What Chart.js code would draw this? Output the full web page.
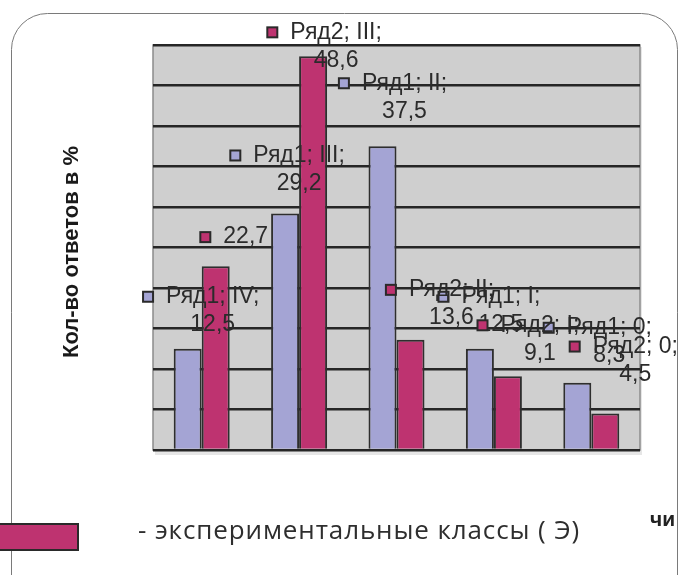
<!DOCTYPE html>
<html>
<head>
<meta charset="utf-8">
<script src="https://cdn.jsdelivr.net/npm/chart.js@4.4.1/dist/chart.umd.min.js"></script>
<style>
	body { margin: 0; background: #fff; }
	#wrap { width: 680px; height: 575px; position: relative; }
</style>
</head>
<body>
<div id="wrap"><canvas id="chart" width="680" height="575"></canvas></div>
<script>
// Categories (answer levels) and series
const categories = [ 'IV', 'III', 'II', 'I', '0' ];
const seriesNames = [ 'Ряд1', 'Ряд2' ];
const row1Values = [ 12.5, 29.2, 37.5, 12.5, 8.3 ];
const row2Values = [ 22.7, 48.6, 13.6, 9.1, 4.5 ];
const yTicks = [ 0, 50, 5 ]; // min, max, step

const yTitle = 'Кол-во ответов в %';
const legendText = '- экспериментальные классы ( Э)';

// Label placement relative to the top of each bar (text centre dx, first line dy)
const labelOffsets = [
	[ [ 25, -52 ], [ 14, -58 ], [ 22, -63 ], [ 21, -52 ], [ 32, -55 ] ],
	[ [ 30, -29 ], [ 23, -24 ], [ 41, -50 ], [ 32, -51 ], [ 30, -67 ] ],
];
// Ряд2; IV shows only its value
const labelNameShown = [
	[ true, true, true, true, true ],
	[ false, true, true, true, true ],
];

const colors = [ '#a4a4d4', '#be3370' ];
const labelFont = '23px "Liberation Sans", Arial, sans-serif';

function fmt( v ) {
	return String( v ).replace( '.', ',' );
}

// Frame, plot background, axis title and legend text
const decorPlugin = {
	id: 'decor',
	beforeDraw( chart ) {
		const { ctx, chartArea: a } = chart;
		ctx.save();
		// rounded frame
		ctx.strokeStyle = '#7a7a7a';
		ctx.lineWidth = 1;
		ctx.beginPath();
		ctx.roundRect( 11.5, 13.5, 666, 600, 36 );
		ctx.stroke();
		// gray plot area
		ctx.fillStyle = '#e6e6e6';
		ctx.fillRect( a.left + 2, a.top + 2, a.right - a.left, a.bottom - a.top + 3 );
		ctx.fillStyle = '#cfcfcf';
		ctx.fillRect( a.left, a.top, a.right - a.left, a.bottom - a.top );
		ctx.strokeStyle = '#8c8c8c';
		ctx.lineWidth = 1.5;
		ctx.strokeRect( a.left, a.top, a.right - a.left, a.bottom - a.top );
		// y title
		ctx.translate( 72, 252 );
		ctx.rotate( -Math.PI / 2 );
		ctx.fillStyle = '#1a1a1a';
		ctx.font = 'bold 22px "Liberation Sans", Arial, sans-serif';
		ctx.textAlign = 'center';
		ctx.textBaseline = 'middle';
		ctx.fillText( yTitle, 0, 0, 224 );
		ctx.restore();

		// legend
		ctx.save();
		ctx.fillStyle = colors[ 1 ];
		ctx.fillRect( 0, 523, 79, 28 );
		ctx.strokeStyle = '#2a2a2a';
		ctx.lineWidth = 2;
		ctx.strokeRect( -2, 524, 80, 26 );
		ctx.fillStyle = '#2e2e2e';
		ctx.font = '26px "Open Sans", sans-serif';
		ctx.textBaseline = 'middle';
		const base = ctx.measureText( legendText ).width;
		const spacing = Math.max( 0, ( 442 - base ) / legendText.length );
		ctx.letterSpacing = spacing.toFixed( 2 ) + 'px';
		ctx.fillText( legendText, 138, 532 );
		ctx.letterSpacing = '0px';
		ctx.fillStyle = '#222';
		ctx.font = 'bold 21px "Liberation Sans", Arial, sans-serif';
		ctx.fillText( 'чи', 650, 520 );
		ctx.restore();
	},
	afterDatasetsDraw( chart ) {
		const { ctx } = chart;
		ctx.save();
		ctx.font = labelFont;
		ctx.textBaseline = 'middle';
		ctx.textAlign = 'center';
		chart.data.datasets.forEach( ( ds, i ) => {
			const meta = chart.getDatasetMeta( i );
			meta.data.forEach( ( bar, j ) => {
				const off = labelOffsets[ i ][ j ];
				const cx = bar.x + off[ 0 ];
				const y1 = bar.y + off[ 1 ];
				const value = fmt( ds.data[ j ] );
				let first;
				if ( labelNameShown[ i ][ j ] ) {
					first = `${ seriesNames[ i ] }; ${ categories[ j ] };`;
				} else {
					first = value;
				}
				const w = ctx.measureText( first ).width;
				// legend key
				const kx = cx - w / 2 - 23;
				ctx.fillStyle = colors[ i ];
				ctx.fillRect( kx, y1 - 5, 10, 10 );
				ctx.strokeStyle = '#2a2a2a';
				ctx.lineWidth = 2;
				ctx.strokeRect( kx, y1 - 5, 10, 10 );
				ctx.fillStyle = '#2b2b2b';
				ctx.fillText( first, cx, y1 );
				if ( labelNameShown[ i ][ j ] ) {
					ctx.fillText( value, cx, y1 + 28 );
				}
			} );
		} );
		ctx.restore();
	},
};

new Chart( document.getElementById( 'chart' ), {
	type: 'bar',
	data: {
		labels: categories,
		datasets: [
			{
				label: seriesNames[ 0 ],
				data: row1Values,
				backgroundColor: colors[ 0 ],
				borderColor: '#2e2e2e',
				borderWidth: 2,
				categoryPercentage: 0.575,
				barPercentage: 1,
			},
			{
				label: seriesNames[ 1 ],
				data: row2Values,
				backgroundColor: colors[ 1 ],
				borderColor: '#2e2e2e',
				borderWidth: 2,
				categoryPercentage: 0.575,
				barPercentage: 1,
			},
		],
	},
	options: {
		responsive: false,
		animation: false,
		layout: {
			padding: { left: 153, right: 40, top: 45, bottom: 125 },
		},
		plugins: {
			legend: { display: false },
			tooltip: { enabled: false },
		},
		scales: {
			x: {
				display: false,
			},
			y: {
				min: yTicks[ 0 ],
				max: yTicks[ 1 ],
				ticks: { stepSize: yTicks[ 2 ], display: false },
				grid: {
					color: '#262626',
					lineWidth: 2.5,
					drawTicks: false,
				},
				border: { display: false },
				afterFit( scale ) {
					scale.width = 0;
				},
			},
		},
	},
	plugins: [ decorPlugin ],
} );
</script>
</body>
</html>
